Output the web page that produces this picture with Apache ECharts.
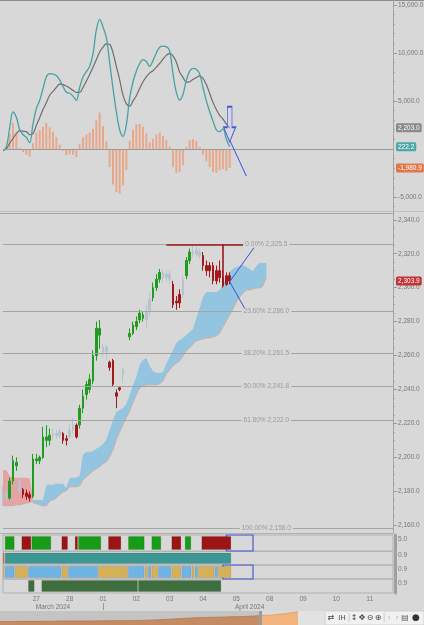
<!DOCTYPE html>
<html>
<head>
<meta charset="utf-8">
<title>MACD / Ichimoku chart</title>
<script src="https://cdn.jsdelivr.net/npm/echarts@6/dist/echarts.min.js"></script>
<style>
  html, body { margin: 0; padding: 0; background: #d8d8d8; }
  #chart { width: 424px; height: 625px; }
</style>
</head>
<body>
<div id="chart"></div>
<script>
// ---- axis data ----
const dayLabels = ['26', '27', '28', '01', '02', '03', '04', '05', '08', '09', '10', '11'];
const monthLabels = ['March 2024', 'April 2024'];
const monthSlots = [15, 74];
const barsPerDay = 10;
const slotCount = 118;
const macdTicks = [-5000, 5000, 10000, 15000];
const priceTicks = [2160, 2180, 2200, 2220, 2240, 2260, 2280, 2300, 2320, 2340];

// ---- price bars (one per slot, null = no bar) ----
const opens = [2175, 2179, 2176, 2186, 2197, 2186, 2181, 2179, 2178, 2177,
  2199, 2198, 2200, 2212, 2210, 2213, 2214, 2213, 2214, 2210,
  2212, 2216, 2219, 2219, 2229, 2237, 2240, 2245, 2260, 2276,
  2262, 2265, 2256, 2257, 2236, 2240, 2252, null, 2271, 2273,
  2277, 2281, 2284, 2281, 2286, 2294, 2300, 2305, 2309, 2306,
  2308, 2302, 2291, 2291, 2296, 2307, 2316, 2321, 2320, 2321,
  2319, 2313, 2310, 2313, 2304, 2310, 2306, 2302, 2307];
const closes = [2179, 2176, 2186, 2198, 2195, 2180, 2178, 2177, 2176, 2199,
  2198, 2200, 2212, 2210, 2213, 2214, 2213, 2215, 2210, 2211,
  2216, 2219, 2212, 2229, 2236, 2243, 2246, 2260, 2276, 2272,
  2265, 2262, 2253, 2243, 2238, 2241, 2249, null, 2273, 2278,
  2280, 2285, 2282, 2286, 2293, 2300, 2305, 2309, 2306, 2308,
  2305, 2290, 2292, 2296, 2305, 2316, 2321, 2320, 2322, 2319,
  2313, 2310, 2313, 2304, 2310, 2306, 2301, 2307, 2303.9];
const lows = [2172, 2173, 2175, 2184, 2192, 2178, 2176, 2175, 2174, 2176,
  2196, 2196, 2199, 2206, 2207, 2210, 2211, 2211, 2208, 2207,
  2211, 2214, 2211, 2217, 2226, 2234, 2238, 2243, 2257, 2264,
  2259, 2258, 2251, 2242, 2229, 2239, 2244, null, 2269, 2272,
  2275, 2279, 2280, 2276, 2283, 2292, 2298, 2303, 2303, 2304,
  2302, 2288, 2287, 2288, 2294, 2305, 2314, 2318, 2318, 2317,
  2310, 2307, 2306, 2302, 2302, 2303, 2300, 2301, 2302];
const highs = [2183, 2181, 2188, 2201, 2200, 2188, 2182, 2181, 2180, 2202,
  2202, 2201, 2218, 2219, 2217, 2217, 2216, 2217, 2215, 2213,
  2220, 2223, 2220, 2231, 2240, 2245, 2249, 2263, 2280, 2281,
  2267, 2266, 2257, 2258, 2240, 2242, 2253, null, 2276, 2280,
  2283, 2287, 2286, 2290, 2297, 2303, 2308, 2311, 2311, 2310,
  2310, 2304, 2295, 2299, 2307, 2318, 2323, 2325.5, 2324, 2323,
  2321, 2316, 2315, 2315, 2313, 2316, 2310, 2309, 2309];
const tones = ['N', 'N', 'G', 'G', 'G', 'N', 'R', 'R', 'R', 'G',
  'G', 'G', 'G', 'G', 'G', 'N', 'N', 'N', 'R', 'R',
  'N', 'N', 'R', 'G', 'G', 'G', 'G', 'G', 'G', 'G',
  'N', 'N', 'R', 'R', 'R', 'R', 'N', '-', 'G', 'G',
  'G', 'G', 'G', 'N', 'N', 'G', 'G', 'G', 'N', 'N',
  'N', 'R', 'R', 'R', 'N', 'G', 'G', 'N', 'N', 'N',
  'R', 'R', 'R', 'R', 'R', 'R', 'R', 'R', 'R'];
const lastPrice = 2303.9;

// ---- ichimoku cloud ----
const redStart = 0;
const redTop = [2192.6, 2192.6, 2189, 2188, 2188, 2188, 2188, 2188, 2187.5, 2175.5];
const redBot = [2171.5, 2171.5, 2171.5, 2171.5, 2172, 2172, 2172.5, 2173, 2173.5, 2174];
const blueStart = 9;
const blueTop = [2174.9, 2174.9, 2174.9, 2174.9, 2183.8, 2183.8, 2183.8, 2184.4, 2184.4, 2184.4,
  2182.0, 2187.9, 2187.9, 2187.9, 2189.1, 2201.5, 2203.2, 2203.2, 2203.8, 2205.0,
  2206.2, 2207.9, 2210.3, 2216.2, 2222.0, 2226.8, 2227.9, 2229.1, 2231.5, 2236.8,
  2242.7, 2247.4, 2254.4, 2257.4, 2258.6, 2253.9, 2250.9, 2249.7, 2249.7, 2250.3,
  2255.0, 2259.1, 2263.3, 2267.4, 2269.2, 2270.3, 2272.1, 2273.9, 2275.6, 2282.1,
  2288.0, 2294.5, 2297.4, 2297.4, 2297.4, 2297.4, 2298.6, 2301.5, 2306.3, 2309.2,
  2311.0, 2312.1, 2312.7, 2313.3, 2312.1, 2311.0, 2309.8, 2312.7, 2314.5, 2314.5, 2314.5];
const blueBot = [2173.2, 2172.6, 2172.0, 2171.4, 2171.4, 2174.3, 2174.9, 2176.1, 2177.9, 2179.6,
  2180.2, 2182.6, 2182.6, 2182.6, 2183.2, 2186.7, 2188.5, 2190.2, 2192.0, 2193.2,
  2194.4, 2196.1, 2197.3, 2200.3, 2204.4, 2210.3, 2215.0, 2219.1, 2223.2, 2227.3,
  2232.1, 2236.8, 2240.9, 2242.1, 2242.7, 2242.7, 2242.7, 2242.7, 2243.3, 2245.0,
  2249.1, 2251.5, 2253.9, 2255.6, 2256.8, 2259.7, 2262.7, 2264.5, 2266.8, 2268.6,
  2269.2, 2269.8, 2270.3, 2270.3, 2270.9, 2271.5, 2273.3, 2276.8, 2280.4, 2283.9,
  2287.4, 2291.5, 2294.5, 2296.8, 2298.6, 2298.6, 2299.2, 2299.8, 2299.8, 2301.0, 2306.3];

// ---- fibonacci retracement ----
const fibPct = ['0.00%', '23.60%', '38.20%', '50.00%', '61.80%', '100.00%'];
const fibLevels = [2325.5, 2286.0, 2261.5, 2241.8, 2222.0, 2158.0];

// ---- MACD ----
const macd = [-170, 200, 2200, 3850, 3300, 2000, 1500, 1200, 650, 2600,
  4200, 5050, 6300, 7500, 7850, 7800, 7650, 7200, 6500, 5900,
  5800, 5500, 5050, 6400, 7500, 8050, 8600, 9900, 12400, 13500,
  12700, 11600, 9000, 6300, 3900, 2000, 1300, 2500, 5300, 7000,
  8100, 8900, 9300, 9100, 8600, 9200, 10000, 10600, 10700, 10650,
  10200, 7800, 5900, 5100, 5700, 7150, 8100, 8400, 8300, 7800,
  6400, 5000, 3900, 2900, 2000, 1800, 2100, 1000, 222.2];
const signal = [-150, 0, 600, 1100, 1600, 1900, 1850, 1800, 1500, 1600,
  2450, 3250, 4100, 4800, 5600, 6000, 6400, 6750, 6700, 6550,
  6350, 6100, 5900, 5900, 6400, 7050, 7750, 8500, 9300, 10100,
  10600, 10950, 10900, 10000, 8600, 7200, 5600, 4700, 4450, 5000,
  5550, 6300, 7000, 7500, 7900, 8150, 8500, 8900, 9350, 9750,
  9950, 9700, 9050, 8000, 7450, 6950, 7000, 7250, 7450, 7600,
  7350, 6700, 5800, 4850, 4100, 3500, 3100, 2600, 2203];
const hist = [-20, 200, 1600, 2700, 1700, 100, -350, -600, -800, 600,
  1700, 2000, 2300, 2700, 2250, 1800, 1250, 450, -200, -650,
  -550, -600, -850, 500, 1200, 1500, 1700, 2100, 3000, 3800,
  2400, 800, -1900, -3700, -4500, -4650, -3800, -2200, 850, 2000,
  2550, 2600, 2300, 1600, 700, 1050, 1500, 1700, 1350, 900,
  250, -1900, -2500, -2400, -1700, 200, 900, 1000, 850, 200,
  -600, -1300, -1900, -2400, -2500, -2200, -2100, -2300, -1980.9];

// ---- indicator strips: [firstSlot, lastSlot, state] ----
const trendRuns = [[1, 3, 'G'], [6, 8, 'R'], [9, 14, 'G'], [18, 19, 'R'], [22, 22, 'R'], [23, 29, 'G'],
  [32, 35, 'R'], [38, 42, 'G'], [45, 47, 'G'], [51, 53, 'R'], [55, 56, 'G'], [60, 68, 'R']];
const regimeRuns = [[0, 0, 'O'], [1, 68, 'T']];
const phaseRuns = [[0, 0, 'Y'], [1, 3, 'B'], [4, 7, 'Y'], [8, 17, 'B'], [18, 19, 'Y'], [20, 28, 'B'],
  [29, 37, 'Y'], [38, 42, 'B'], [43, 43, 'Y'], [44, 44, 'B'], [45, 46, 'Y'], [47, 50, 'B'],
  [51, 53, 'Y'], [54, 56, 'B'], [57, 57, 'Y'], [58, 58, 'B'], [59, 63, 'Y'], [64, 64, 'B'], [65, 68, 'Y']];
const volumeRuns = [[8, 9, 'D'], [12, 40, 'D'], [41, 65, 'D']];
const rowLabels = ['5.0', '0.9', '0.9', '0.9'];

// ---- navigator ----
const navValues = [25, 25, 26, 26, 27, 29, 29, 29, 30, 31, 31, 33, 36, 41, 46, 51, 54, 56, 59, 61, 66, 71, 81, 94];
const navSplit = 20;

// ---------------------------------------------------------------
const toneColor = { G: '#1f9b1f', R: '#a31818', N: '#b7c3cc' };
const blockColor = { G: '#179c17', R: '#9c1414', O: '#e0692f', T: '#3b9694', Y: '#d5b056', B: '#6db3e3', D: '#3e6d3e' };
const slots = Array.from({ length: slotCount }, (_, i) => String(i));
const fmt = v => v.toLocaleString('en-US', { minimumFractionDigits: 1, maximumFractionDigits: 1 });
const labelFont = { fontSize: 6.5, color: '#777', fontFamily: 'Liberation Sans' };

function place (arr, start) {
  const out = new Array(slotCount).fill('-');
  arr.forEach((v, k) => { out[start + k] = v; });
  return out;
}

const candleData = opens.map((o, i) => {
  if (o == null) return '-';
  const c = toneColor[tones[i]];
  return {
    value: [o, closes[i], lows[i], highs[i]],
    itemStyle: { color: c, color0: c, borderColor: c, borderColor0: c }
  };
});

function slotAxis (gridIndex, extra) {
  return Object.assign({
    type: 'category', gridIndex: gridIndex, position: 'bottom', data: slots, boundaryGap: false,
    axisLine: { show: false }, axisTick: { show: false }, axisLabel: { show: false }, splitLine: { show: false }
  }, extra || {});
}

function rowAxis (gridIndex, label) {
  return {
    type: 'value', gridIndex: gridIndex, position: 'right', min: -0.12, max: 1.1, offset: 2,
    axisLine: { show: true, lineStyle: { color: '#a0a0a0', width: 3 } },
    axisTick: { show: false }, splitLine: { show: false },
    axisLabel: Object.assign({ customValues: [0.75], formatter: () => label, margin: 3 }, labelFont)
  };
}

function renderRun (params, api) {
  const w = api.size([1, 0])[0];
  const x0 = api.coord([api.value(0), 0])[0] - w / 2 + 0.5;
  const x1 = api.coord([api.value(1), 0])[0] + w / 2 - 0.5;
  const cs = params.coordSys;
  return {
    type: 'rect',
    shape: { x: x0, y: cs.y + 1.5, width: x1 - x0, height: cs.height - 3 },
    style: { fill: api.visual('color'), stroke: 'rgba(0,0,0,0.18)', lineWidth: 0.6 }
  };
}

function rowSeries (gridIndex, runs) {
  return {
    type: 'custom', xAxisIndex: gridIndex, yAxisIndex: gridIndex + 2, clip: true,
    renderItem: renderRun, encode: { x: [0, 1] },
    data: runs.map(r => ({ value: [r[0], r[1]], itemStyle: { color: blockColor[r[2]] } }))
  };
}

function tag (value, text, color) {
  return {
    yAxis: value,
    lineStyle: { color: 'rgba(0,0,0,0)' },
    label: {
      show: true, position: 'end', distance: 3, formatter: text,
      backgroundColor: color, color: '#fff', fontSize: 6.5, padding: [1, 2, 1, 2], borderRadius: 1.5
    }
  };
}

const blueMark = { color: '#3d4ed8', width: 1, type: 'solid' };
const redMark = { color: '#9c1a1a', width: 1.6, type: 'solid' };
const boxMark = { color: 'rgba(0,0,0,0)', borderColor: '#4a5ad6', borderWidth: 1.2 };

const chart = echarts.init(document.getElementById('chart'));

const option = {
  animation: false,
  backgroundColor: '#d8d8d8',
  textStyle: { fontFamily: 'Liberation Sans' },
  grid: [
    { left: 3, right: 31, top: 3, height: 205, outerBoundsMode: 'none' },
    { left: 3, right: 31, top: 214, height: 318, outerBoundsMode: 'none' },
    { left: 3, right: 31, top: 535, height: 16, show: true, borderColor: '#b2b2b2', borderWidth: 1, outerBoundsMode: 'none' },
    { left: 3, right: 31, top: 551.5, height: 13.5, show: true, borderColor: '#b2b2b2', borderWidth: 1, outerBoundsMode: 'none' },
    { left: 3, right: 31, top: 565, height: 14, show: true, borderColor: '#b2b2b2', borderWidth: 1, outerBoundsMode: 'none' },
    { left: 3, right: 31, top: 579, height: 14, show: true, borderColor: '#b2b2b2', borderWidth: 1, outerBoundsMode: 'none' },
    { left: 0, top: 611, width: 298, height: 14, outerBoundsMode: 'none' }
  ],
  xAxis: [
    slotAxis(0), slotAxis(1), slotAxis(2), slotAxis(3), slotAxis(4),
    slotAxis(5, {
      axisLabel: Object.assign({
        show: true, margin: 3,
        interval: idx => idx > 0 && idx % barsPerDay === 0,
        formatter: (v, idx) => dayLabels[Math.floor(idx / barsPerDay)]
      }, labelFont)
    }),
    slotAxis(5, {
      position: 'bottom', offset: 10,
      axisTick: { show: true, length: 7, interval: idx => idx === 30, lineStyle: { color: '#9a9a9a' } },
      axisLabel: Object.assign({
        show: true, margin: 1,
        interval: idx => monthSlots.indexOf(idx) >= 0,
        formatter: (v, idx) => monthLabels[monthSlots.indexOf(idx)]
      }, labelFont)
    }),
    { type: 'category', gridIndex: 6, data: navValues.map((_, i) => String(i)), boundaryGap: false, show: false }
  ],
  yAxis: [
    {
      type: 'value', gridIndex: 0, position: 'right', min: -6150, max: 15200,
      axisLine: { show: false }, splitLine: { show: false },
      axisTick: { show: true, customValues: macdTicks, length: 4, lineStyle: { color: '#9a9a9a' } },
      axisLabel: Object.assign({ customValues: macdTicks, formatter: fmt, margin: 5 }, labelFont)
    },
    {
      type: 'value', gridIndex: 0, position: 'right', min: -6150, max: 15200,
      axisLine: { show: false }, splitLine: { show: false }, axisLabel: { show: false },
      axisTick: {
        show: true, length: 2, lineStyle: { color: '#a5a5a5' },
        customValues: [-6000, -4000, -3000, -2000, -1000, 1000, 2000, 3000, 4000, 6000, 7000, 8000, 9000, 11000, 12000, 13000, 14000]
      }
    },
    {
      type: 'value', gridIndex: 1, position: 'right', min: 2156, max: 2343.4,
      axisLine: { show: false }, splitLine: { show: false },
      axisTick: { show: true, customValues: priceTicks, length: 4, lineStyle: { color: '#9a9a9a' } },
      axisLabel: Object.assign({ customValues: priceTicks, formatter: fmt, margin: 5 }, labelFont)
    },
    {
      type: 'value', gridIndex: 1, position: 'right', min: 2156, max: 2343.4,
      axisLine: { show: false }, splitLine: { show: false }, axisLabel: { show: false },
      axisTick: {
        show: true, length: 2, lineStyle: { color: '#a5a5a5' },
        customValues: [2165, 2170, 2175, 2185, 2190, 2195, 2205, 2210, 2215, 2225, 2230, 2235, 2245, 2250, 2255,
          2265, 2270, 2275, 2285, 2290, 2295, 2305, 2310, 2315, 2325, 2330, 2335]
      }
    },
    rowAxis(2, rowLabels[0]), rowAxis(3, rowLabels[1]), rowAxis(4, rowLabels[2]), rowAxis(5, rowLabels[3]),
    { type: 'value', gridIndex: 6, min: 0, max: 100, show: false }
  ],
  series: [
    // MACD panel
    {
      type: 'bar', xAxisIndex: 0, yAxisIndex: 0, data: hist, barWidth: 2,
      itemStyle: { color: '#e8a88c' }, z: 2
    },
    {
      type: 'line', xAxisIndex: 0, yAxisIndex: 0, data: signal, smooth: 0.35, showSymbol: false,
      lineStyle: { color: '#6e6e6e', width: 1.2 }, z: 3
    },
    {
      type: 'line', xAxisIndex: 0, yAxisIndex: 0, data: macd, smooth: 0.35, showSymbol: false,
      lineStyle: { color: '#45a2a4', width: 1.3 }, z: 3
    },
    {
      type: 'line', xAxisIndex: 0, yAxisIndex: 0, data: [], clip: false, silent: true, z: 4,
      markLine: {
        silent: true, symbol: ['none', 'none'], label: { show: false },
        data: [
          { yAxis: 0, lineStyle: { color: '#9a9a9a', width: 1, type: 'solid' } },
          tag(2203, fmt(2203), '#8a8a8a'),
          tag(222.2, fmt(222.2), '#4ea8a8'),
          tag(-1980.9, fmt(-1980.9), '#e2764a'),
          [{ coord: [68, 930], lineStyle: blueMark }, { coord: [73, -2820] }]
        ]
      },
      markPoint: {
        silent: true,
        data: [{
          coord: [68, 2570], symbol: 'path://M4,0L9,0L9,21L13,21L6.5,36L0,21L4,21Z', symbolSize: [12, 35],
          itemStyle: { color: 'rgba(210,215,245,0.35)', borderColor: '#4a5ad6', borderWidth: 1.2 },
          label: { show: false }
        }]
      }
    },
    // price panel: cloud
    {
      type: 'line', xAxisIndex: 1, yAxisIndex: 2, stack: 'red', data: place(redBot, redStart),
      showSymbol: false, lineStyle: { color: '#c9a3a3', width: 0.8 }, z: 1
    },
    {
      type: 'line', xAxisIndex: 1, yAxisIndex: 2, stack: 'red',
      data: place(redTop.map((t, k) => +(t - redBot[k]).toFixed(2)), redStart),
      showSymbol: false, lineStyle: { width: 0 }, areaStyle: { color: '#e4a4a4', opacity: 1 }, z: 1
    },
    {
      type: 'line', xAxisIndex: 1, yAxisIndex: 2, stack: 'blue', data: place(blueBot, blueStart),
      showSymbol: false, lineStyle: { color: '#d4a898', width: 0.8 }, z: 1
    },
    {
      type: 'line', xAxisIndex: 1, yAxisIndex: 2, stack: 'blue',
      data: place(blueTop.map((t, k) => +(t - blueBot[k]).toFixed(2)), blueStart),
      showSymbol: false, lineStyle: { width: 0 }, areaStyle: { color: '#93c5e0', opacity: 1 }, z: 1
    },
    // price bars
    {
      type: 'candlestick', xAxisIndex: 1, yAxisIndex: 2, data: candleData, barWidth: 2, z: 3
    },
    // fib levels, drawings, last price tag
    {
      type: 'line', xAxisIndex: 1, yAxisIndex: 2, data: [], clip: false, silent: true, z: 4,
      markLine: {
        silent: true, symbol: ['none', 'none'], label: { show: false },
        data: fibLevels.map(lvl => ({ yAxis: lvl, lineStyle: { color: '#a4a4a4', width: 1, type: 'solid' } })).concat([
          [{ coord: [49, 2325.5], lineStyle: redMark }, { coord: [72, 2325.5] }],
          [{ coord: [66, 2325.5], lineStyle: redMark }, { coord: [66, 2301.5] }],
          [{ coord: [68, 2303.5], lineStyle: blueMark }, { coord: [76, 2325.5] }],
          [{ coord: [68, 2303.5], lineStyle: blueMark }, { coord: [73, 2286.0] }],
          tag(lastPrice, fmt(lastPrice), '#c23434')
        ])
      },
      markPoint: {
        silent: true,
        data: fibLevels.map((lvl, k) => ({
          name: fibPct[k] + ' ' + fmt(lvl), coord: [79, lvl], symbol: 'rect', symbolSize: [1, 1],
          itemStyle: { color: 'rgba(0,0,0,0)' },
          label: {
            show: true, position: 'inside', formatter: '{b}', backgroundColor: '#d8d8d8',
            color: '#9a9a9a', fontSize: 6.5, padding: [0, 2, 0, 2]
          }
        }))
      }
    },
    // indicator strips
    rowSeries(2, trendRuns),
    rowSeries(3, regimeRuns),
    rowSeries(4, phaseRuns),
    rowSeries(5, volumeRuns),
    {
      type: 'line', xAxisIndex: 2, yAxisIndex: 4, data: [], clip: false, silent: true, z: 5,
      markArea: { silent: true, itemStyle: boxMark, data: [[{ coord: [67, 1.3] }, { coord: [75, -0.17] }]] }
    },
    {
      type: 'line', xAxisIndex: 4, yAxisIndex: 6, data: [], clip: false, silent: true, z: 5,
      markArea: { silent: true, itemStyle: boxMark, data: [[{ coord: [66, 1.27] }, { coord: [75, -0.12] }]] }
    },
    // navigator
    {
      type: 'line', xAxisIndex: 7, yAxisIndex: 8, showSymbol: false,
      data: navValues.map((v, i) => (i <= navSplit ? v : '-')),
      lineStyle: { color: '#b57a52', width: 0.8 }, areaStyle: { color: '#c58b63', opacity: 1 }
    },
    {
      type: 'line', xAxisIndex: 7, yAxisIndex: 8, showSymbol: false,
      data: navValues.map((v, i) => (i >= navSplit ? v : '-')),
      lineStyle: { color: '#e39a62', width: 0.8 }, areaStyle: { color: '#f2b37f', opacity: 1 }
    }
  ],
  graphic: [
    { type: 'line', shape: { x1: 0, y1: 0.5, x2: 424, y2: 0.5 }, style: { stroke: '#8e8e8e', lineWidth: 1 } },
    { type: 'line', shape: { x1: 0, y1: 211.5, x2: 424, y2: 211.5 }, style: { stroke: '#c2c2c2', lineWidth: 1 } },
    { type: 'line', shape: { x1: 0, y1: 213.5, x2: 393, y2: 213.5 }, style: { stroke: '#a6a6a6', lineWidth: 1 } },
    { type: 'line', shape: { x1: 0, y1: 533.5, x2: 393, y2: 533.5 }, style: { stroke: '#b2b2b2', lineWidth: 1 } },
    { type: 'line', shape: { x1: 393.5, y1: 0, x2: 393.5, y2: 534 }, style: { stroke: '#a4a4a4', lineWidth: 1 } },
    { type: 'rect', shape: { x: 0, y: 611, width: 260, height: 14 }, style: { fill: '#c4c4c4' } },
    { type: 'rect', shape: { x: 260, y: 611, width: 38, height: 14 }, style: { fill: '#dadada' } },
    { type: 'rect', shape: { x: 298, y: 611, width: 27, height: 14 }, style: { fill: '#e2e2e2' } },
    { type: 'rect', shape: { x: 259, y: 611, width: 3, height: 14 }, style: { fill: '#9c9c9c' }, z: 10 },
    {
      type: 'group', z: 20,
      children: [
        { type: 'rect', shape: { x: 325, y: 611, width: 99, height: 14 }, style: { fill: '#f1f1f1', stroke: '#cfcfcf', lineWidth: 1 } },
        { type: 'text', style: { text: '⇄', x: 331, y: 618, fill: '#444', fontSize: 8, fontFamily: 'DejaVu Sans', align: 'center', verticalAlign: 'middle' } },
        { type: 'text', style: { text: 'IH', x: 342, y: 618, fill: '#444', fontSize: 7, fontFamily: 'DejaVu Sans', align: 'center', verticalAlign: 'middle' } },
        { type: 'text', style: { text: '|', x: 349, y: 618, fill: '#bbb', fontSize: 8, fontFamily: 'DejaVu Sans', align: 'center', verticalAlign: 'middle' } },
        { type: 'text', style: { text: '↕', x: 354, y: 618, fill: '#444', fontSize: 8, fontFamily: 'DejaVu Sans', align: 'center', verticalAlign: 'middle' } },
        { type: 'text', style: { text: '✥', x: 362, y: 618, fill: '#444', fontSize: 8, fontFamily: 'DejaVu Sans', align: 'center', verticalAlign: 'middle' } },
        { type: 'text', style: { text: '⊖', x: 370, y: 618, fill: '#444', fontSize: 8, fontFamily: 'DejaVu Sans', align: 'center', verticalAlign: 'middle' } },
        { type: 'text', style: { text: '⊕', x: 378, y: 618, fill: '#444', fontSize: 8, fontFamily: 'DejaVu Sans', align: 'center', verticalAlign: 'middle' } },
        { type: 'text', style: { text: '|', x: 384, y: 618, fill: '#bbb', fontSize: 8, fontFamily: 'DejaVu Sans', align: 'center', verticalAlign: 'middle' } },
        { type: 'text', style: { text: '‹', x: 389, y: 618, fill: '#aaa', fontSize: 8, fontFamily: 'DejaVu Sans', align: 'center', verticalAlign: 'middle' } },
        { type: 'text', style: { text: '›', x: 397, y: 618, fill: '#aaa', fontSize: 8, fontFamily: 'DejaVu Sans', align: 'center', verticalAlign: 'middle' } },
        { type: 'text', style: { text: '▤', x: 405, y: 618, fill: '#555', fontSize: 8, fontFamily: 'DejaVu Sans', align: 'center', verticalAlign: 'middle' } },
        { type: 'text', style: { text: '●', x: 416, y: 618, fill: '#333', fontSize: 9, fontFamily: 'DejaVu Sans', align: 'center', verticalAlign: 'middle' } }
      ]
    }
  ]
};

chart.setOption(option);
</script>
</body>
</html>
